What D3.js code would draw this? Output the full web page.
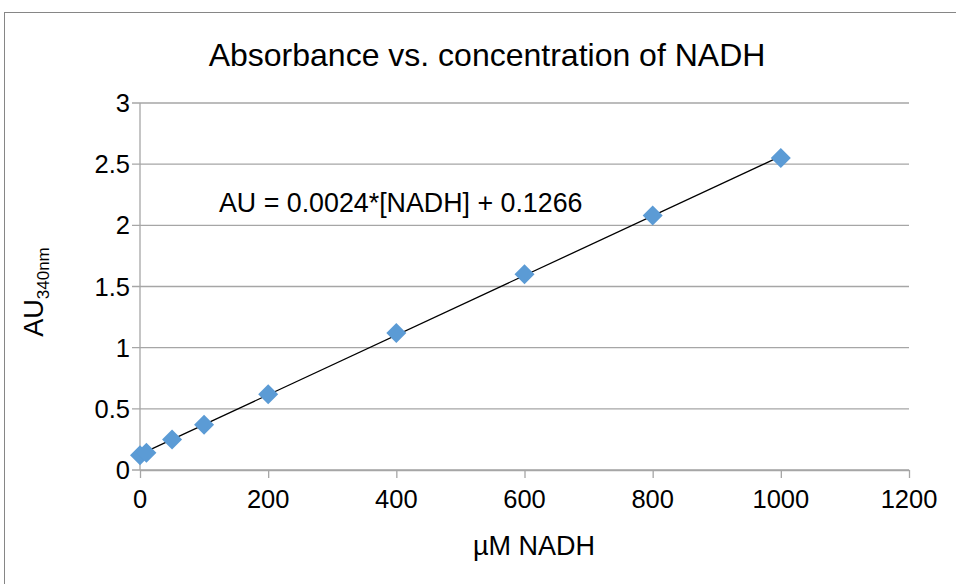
<!DOCTYPE html>
<html lang="en">
<head>
    <meta charset="UTF-8">
    <title>Absorbance vs. concentration of NADH</title>
    <script src="https://d3js.org/d3.v7.min.js"></script>
    <style>
        body {
            margin: 0;
            background: #fff;
            font-family: "Liberation Sans", Arial, sans-serif;
        }
        .grid line {
            stroke: #a6a6a6;
            stroke-width: 1.3px;
        }
        .tick-label {
            font-size: 25.5px;
            fill: #000;
        }
    </style>
</head>
<body>
    <svg id="chart" width="956" height="584"></svg>

    <script>
        // Data
        const concentration = [0, 10, 50, 100, 200, 400, 600, 800, 1000];
        const absorbance = [0.12, 0.14, 0.25, 0.37, 0.62, 1.12, 1.60, 2.08, 2.55];
        const xTicks = [0, 200, 400, 600, 800, 1000, 1200];
        const yTicks = [0, 0.5, 1, 1.5, 2, 2.5, 3];

        const plot = { left: 140, right: 909, top: 103, bottom: 470 };

        const svg = d3.select("#chart");

        // chart frame
        svg.append("rect")
            .attr("x", 4.5)
            .attr("y", 12.5)
            .attr("width", 1000)
            .attr("height", 1000)
            .attr("fill", "none")
            .attr("stroke", "#868686")
            .attr("stroke-width", 1);

        const x = d3.scaleLinear().domain([0, 1200]).range([plot.left, plot.right]);
        const y = d3.scaleLinear().domain([0, 3]).range([plot.bottom, plot.top]);

        // horizontal gridlines (extend left of axis as tick marks)
        svg.append("g")
            .attr("class", "grid")
            .selectAll("line")
            .data(yTicks)
            .enter()
            .append("line")
            .attr("x1", plot.left - 8)
            .attr("x2", plot.right)
            .attr("y1", d => y(d))
            .attr("y2", d => y(d));

        // y axis line
        svg.append("line")
            .attr("x1", plot.left).attr("x2", plot.left)
            .attr("y1", plot.top).attr("y2", plot.bottom)
            .attr("stroke", "#a6a6a6")
            .attr("stroke-width", 1.3);

        // x axis with tick marks
        const xAxis = svg.append("g")
            .attr("transform", `translate(0,${plot.bottom})`)
            .call(d3.axisBottom(x).tickValues(xTicks).tickSize(8).tickSizeOuter(0).tickFormat(""));
        xAxis.selectAll("path, line").attr("stroke", "#a6a6a6").attr("stroke-width", 1.3);

        // tick labels
        svg.append("g")
            .selectAll("text")
            .data(xTicks)
            .enter()
            .append("text")
            .attr("class", "tick-label")
            .attr("x", d => x(d))
            .attr("y", 508)
            .attr("text-anchor", "middle")
            .text(d => d);

        svg.append("g")
            .selectAll("text")
            .data(yTicks)
            .enter()
            .append("text")
            .attr("class", "tick-label")
            .attr("x", 130)
            .attr("y", d => y(d) + 9)
            .attr("text-anchor", "end")
            .text(d => d);

        // least-squares trendline over the data
        const mx = d3.mean(concentration), my = d3.mean(absorbance);
        const slope = d3.sum(concentration, (c, i) => (c - mx) * (absorbance[i] - my)) /
            d3.sum(concentration, c => (c - mx) * (c - mx));
        const intercept = my - slope * mx;
        const xExt = d3.extent(concentration);
        svg.append("line")
            .attr("x1", x(xExt[0])).attr("y1", y(slope * xExt[0] + intercept))
            .attr("x2", x(xExt[1])).attr("y2", y(slope * xExt[1] + intercept))
            .attr("stroke", "#000")
            .attr("stroke-width", 1.3);

        // diamond markers
        const diamond = d3.symbol().type(d3.symbolSquare).size(200);
        svg.append("g")
            .selectAll("path")
            .data(concentration)
            .enter()
            .append("path")
            .attr("d", diamond)
            .attr("transform", (d, i) => `translate(${x(d)},${y(absorbance[i])}) rotate(45)`)
            .attr("fill", "#5b9bd5");

        // title
        svg.append("text")
            .attr("x", 487)
            .attr("y", 66)
            .attr("text-anchor", "middle")
            .attr("font-size", 32)
            .text("Absorbance vs. concentration of NADH");

        // equation label
        svg.append("text")
            .attr("x", 219)
            .attr("y", 212)
            .attr("font-size", 26.8)
            .text("AU = 0.0024*[NADH] + 0.1266");

        // x axis title
        svg.append("text")
            .attr("x", 534)
            .attr("y", 555)
            .attr("text-anchor", "middle")
            .attr("font-size", 27)
            .text("µM NADH");

        // y axis title with subscript
        const yTitle = svg.append("text")
            .attr("transform", "translate(43,292) rotate(-90)")
            .attr("text-anchor", "middle")
            .attr("font-size", 27);
        yTitle.append("tspan").text("AU");
        yTitle.append("tspan").attr("font-size", 17).attr("dy", 6).text("340nm");
    </script>
</body>
</html>
